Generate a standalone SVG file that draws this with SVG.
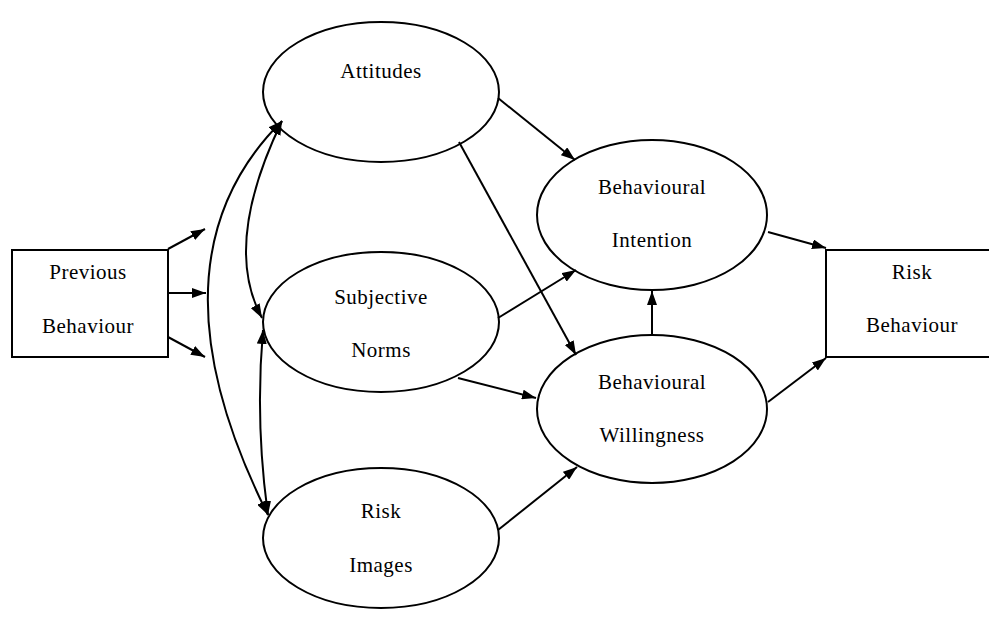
<svg xmlns="http://www.w3.org/2000/svg" width="989" height="617" viewBox="0 0 989 617">
<defs>
<marker id="ah" viewBox="0 0 14 10" refX="14" refY="5" markerWidth="14" markerHeight="10" markerUnits="userSpaceOnUse" orient="auto-start-reverse">
<path d="M0,0 L14,5 L0,10 Z" fill="#000"/>
</marker>
</defs>
<style>
.n{fill:#fff;stroke:#000;stroke-width:2}
text{font-family:'Liberation Serif','DejaVu Serif',serif;font-size:21px;fill:#000;text-anchor:middle;letter-spacing:0.5px}
.c{fill:none;stroke:#000;stroke-width:2;marker-end:url(#ah)}
.d{fill:none;stroke:#000;stroke-width:2;marker-end:url(#ah);marker-start:url(#ah)}
</style>
<rect width="989" height="617" fill="#fff"/>
<g id="previous-behaviour"><rect class="n" x="12" y="250" width="156" height="107"/><text x="88" y="279">Previous</text><text x="88" y="333">Behaviour</text></g>
<g id="attitudes"><ellipse class="n" cx="381" cy="92" rx="118" ry="70"/><text x="381" y="78">Attitudes</text></g>
<g id="subjective-norms"><ellipse class="n" cx="381" cy="322" rx="118" ry="70"/><text x="381" y="304">Subjective</text><text x="381" y="357">Norms</text></g>
<g id="risk-images"><ellipse class="n" cx="381" cy="538" rx="118" ry="70"/><text x="381" y="518">Risk</text><text x="381" y="572">Images</text></g>
<g id="behavioural-intention"><ellipse class="n" cx="652" cy="215" rx="115" ry="75"/><text x="652" y="194">Behavioural</text><text x="652" y="247">Intention</text></g>
<g id="behavioural-willingness"><ellipse class="n" cx="652" cy="409" rx="115" ry="74"/><text x="652" y="389">Behavioural</text><text x="652" y="442">Willingness</text></g>
<g id="risk-behaviour"><rect class="n" x="826" y="250" width="180" height="107"/><text x="912" y="279">Risk</text><text x="912" y="332">Behaviour</text></g>
<g id="connectors">
<path class="c" d="M168,249 L205,229"/>
<path class="c" d="M168,293 L206,293"/>
<path class="c" d="M168,337 L205,357"/>
<path class="d" d="M282,121 Q222,245 262,318"/>
<path class="d" d="M263,330 Q255,422 268,515"/>
<path class="d" d="M282,121 Q141,261 268,515"/>
<path class="c" d="M498,98 L575,160"/>
<path class="c" d="M459,142 L576,355"/>
<path class="c" d="M498,318 L576,270"/>
<path class="c" d="M458,378 L536,398"/>
<path class="c" d="M498,530 L577,467"/>
<path class="c" d="M652,335 L652,291"/>
<path class="c" d="M768,232 L826,248"/>
<path class="c" d="M768,402 L826,358"/>
</g>
</svg>
